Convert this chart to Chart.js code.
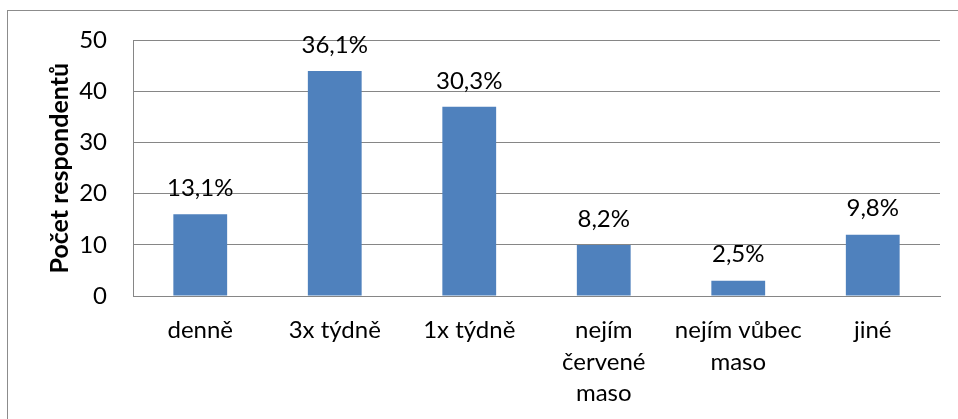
<!DOCTYPE html>
<html>
<head>
<meta charset="utf-8">
<script src="https://cdn.jsdelivr.net/npm/chart.js@4/dist/chart.umd.min.js"></script>
<style>
  html, body { margin: 0; padding: 0; background: #ffffff; }
  #wrap { position: relative; width: 958px; height: 419px; overflow: hidden; }
  #frame { position: absolute; left: 7px; top: 10px; width: 980px; height: 440px;
           border: 1px solid #8c8c8c; box-sizing: border-box; }
  canvas { position: absolute; left: 0; top: 0; }
</style>
</head>
<body>
<div id="wrap">
  <div id="frame"></div>
  <canvas id="c" width="958" height="419"></canvas>
</div>
<script>
// Jak často respondenti jedí maso
const categories = [
  ['denně'],
  ['3x týdně'],
  ['1x týdně'],
  ['nejím', 'červené', 'maso'],
  ['nejím vůbec', 'maso'],
  ['jiné']
];
const counts = [16, 44, 37, 10, 3, 12];
const yTicks = [0, 10, 20, 30, 40, 50];
const axisTitle = 'Počet respondentů';

const total = counts.reduce((a, b) => a + b, 0);
const shareLabels = counts.map(v => (v / total * 100).toFixed(1).replace('.', ',') + '%');

const FONT = 'Lato, "Open Sans", sans-serif';
const SIZE = 24;

const valueLabels = {
  id: 'valueLabels',
  afterDatasetsDraw(chart) {
    const ctx = chart.ctx;
    const meta = chart.getDatasetMeta(0);
    ctx.save();
    ctx.font = SIZE + 'px ' + FONT;
    ctx.fillStyle = '#000000';
    ctx.textAlign = 'center';
    ctx.textBaseline = 'middle';
    meta.data.forEach((bar, i) => {
      ctx.fillText(shareLabels[i], bar.x, bar.y - 26);
    });
    ctx.restore();
  }
};

new Chart(document.getElementById('c'), {
  type: 'bar',
  data: {
    labels: categories,
    datasets: [{
      data: counts,
      backgroundColor: '#4f81bd',
      borderWidth: 0,
      categoryPercentage: 1,
      barPercentage: 0.4
    }]
  },
  options: {
    responsive: false,
    animation: false,
    events: [],
    layout: { padding: { left: 8, top: 40, right: 18, bottom: 0 } },
    plugins: { legend: { display: false }, tooltip: { enabled: false } },
    scales: {
      x: {
        grid: { display: false, drawTicks: false },
        border: { color: '#868686', width: 1 },
        ticks: {
          color: '#000000',
          font: { family: FONT, size: SIZE, lineHeight: 1.3 },
          padding: 19,
          maxRotation: 0,
          autoSkip: false
        },
        afterFit(scale) { scale.height = 123; }
      },
      y: {
        min: 0,
        max: 50,
        afterBuildTicks(scale) { scale.ticks = yTicks.map(v => ({ value: v })); },
        grid: { color: '#868686', drawTicks: false },
        border: { color: '#868686', width: 1 },
        ticks: {
          color: '#000000',
          font: { family: FONT, size: SIZE },
          padding: 26
        },
        title: {
          display: true,
          text: axisTitle,
          color: '#000000',
          font: { family: FONT, size: 25, weight: 'bold' },
          padding: { top: 37, bottom: 0 }
        },
        afterFit(scale) { scale.width = 125; }
      }
    }
  },
  plugins: [valueLabels]
});
</script>
</body>
</html>
